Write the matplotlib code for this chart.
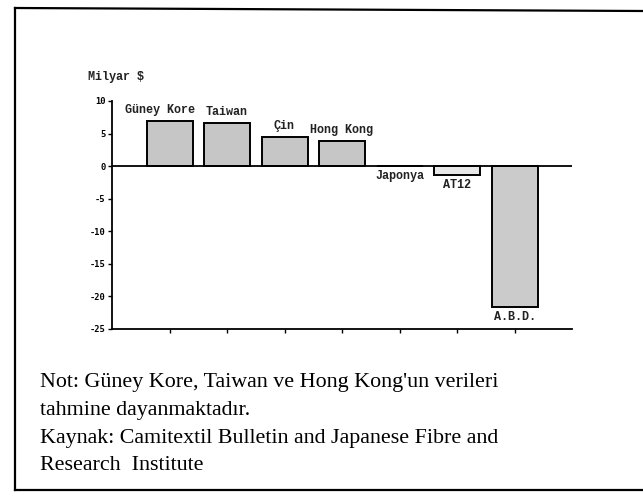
import numpy as np
import matplotlib
matplotlib.use('Agg')
import matplotlib.pyplot as plt
from matplotlib.lines import Line2D

# data (milyar $)
countries = ['Güney Kore', 'Taiwan', 'Çin', 'Hong Kong', 'Japonya', 'AT12', 'A.B.D.']
values = [6.9, 6.6, 4.4, 3.8, 0.0, -1.4, -21.6]
bar_colors = ['#c6c6c6', '#c6c6c6', '#c6c6c6', '#c6c6c6', '#c6c6c6', '#e8e8e8', '#cbcbcb']
yticks = [10, 5, 0, -5, -10, -15, -20, -25]

note_lines = [
    "Not: Güney Kore, Taiwan ve Hong Kong'un verileri",
    "tahmine dayanmaktadır.",
    "Kaynak: Camitextil Bulletin and Japanese Fibre and",
    "Research  Institute",
]

W, H = 643, 500
fig = plt.figure(figsize=(W / 100, H / 100), dpi=100)
fig.patch.set_facecolor('white')

# page frame (scan border)
fig.add_artist(Line2D([15 / W, 1.0], [1 - 8 / H, 1 - 11 / H], color='black', lw=1.6))
fig.add_artist(Line2D([15 / W, 15 / W], [1 - 8 / H, 1 - 490 / H], color='black', lw=1.6))
fig.add_artist(Line2D([15 / W, 1.0], [1 - 490 / H, 1 - 490 / H], color='black', lw=1.6))

ax = fig.add_axes([112 / W, 1 - 329 / H, (572 - 112) / W, (329 - 101) / H])
x = np.arange(len(countries))
ax.bar(x, values, width=0.8, color=bar_colors, edgecolor='black', linewidth=1.4, zorder=2)
ax.axhline(0, color='black', lw=1.3, zorder=3)

ax.set_xlim(-1, 7)
ax.set_ylim(-25, 10)
ax.set_yticks(yticks)
ax.set_yticklabels([str(t) for t in yticks], fontsize=6.3, fontweight='bold',
                   family='DejaVu Sans Mono')
ax.set_xticks(x)
ax.set_xticklabels([])
ax.tick_params(axis='y', length=3, width=1, pad=1.5)
ax.tick_params(axis='x', length=3, width=1, direction='out')
for s in ['top', 'right']:
    ax.spines[s].set_visible(False)
for s in ['left', 'bottom']:
    ax.spines[s].set_linewidth(1.3)

# country labels above positive bars, below negative ones
lab = dict(fontsize=8.5, family='Liberation Mono', fontweight='bold', color='#222222')
for xi, v, name in zip(x, values, countries):
    if v > 0:
        ax.text(xi - (0.17 if xi == 0 else 0), v + 0.8, name, ha='center', va='bottom', **lab)
    else:
        ax.text(xi, v - 0.6, name, ha='center', va='top', **lab)

fig.text(88 / W, 1 - 77 / H, 'Milyar $', **lab, va='center')

for i, line in enumerate(note_lines):
    fig.text(40 / W, 1 - (383 + i * 27.5) / H, line, fontsize=15.8,
             family='Liberation Serif', va='center')

fig.savefig('out.png', dpi=100)
